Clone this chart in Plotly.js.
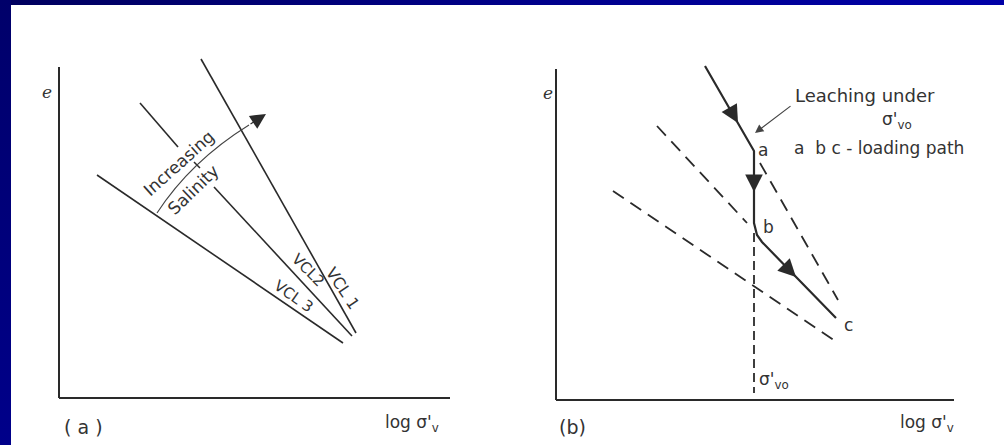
<!DOCTYPE html>
<html>
<head>
<meta charset="utf-8">
<script src="https://cdn.plot.ly/plotly-3.0.1.min.js"></script>
<style>
  body { margin: 0; background: #fff; }
  #frame { position: relative; width: 1004px; height: 445px; overflow: hidden; background: #fff; }
  .bar-top { position: absolute; left: 0; top: 0; width: 1004px; height: 5px;
             background: linear-gradient(to right, #00005e, #00008c 55%, #0000a8); }
  .bar-left { position: absolute; left: 0; top: 0; width: 11px; height: 445px;
              background: linear-gradient(to bottom, #00006a, #00008a); }
  #chart { position: absolute; left: 0; top: 0; width: 1004px; height: 445px; }
</style>
</head>
<body>
<div id="frame">
  <div class="bar-top"></div>
  <div class="bar-left"></div>
  <div id="chart"></div>
</div>
<script>
// Units on both panels: distance from the axis corner.

// (a) virgin compression lines
var vcl1X = [142, 297];
var vcl1Y = [339, 65];
var vcl2X = [81, 119, null, 155, 293];   // broken where "Increasing" sits
var vcl2Y = [295, 251, null, 211, 62];
var vcl3X = [38, 284];
var vcl3Y = [223, 55];
var arcPts = [[98, 185], [132, 237], [190, 273]];   // start, control, end
var arcHead = [207, 284];
var axisA = [391, 331];                 // x-axis length, y-axis length

// (b) loading path a-b-c and the dashed lines
var pathX = [149, 198, 198, 201, 206, 280];
var pathY = [334, 249, 177, 165, 158, 82];
var dash1X = [204, 282], dash1Y = [237, 100];
var dash2X = [101, 191], dash2Y = [274, 177];
var dash3X = [57, 282],  dash3Y = [209, 57];
var sigmaX = [198, 198], sigmaY = [167, 7];
var heads = [[178, 284, 182, 277], [198, 216, 198, 208], [234, 129, 240, 123]]; // tail, head
var axisB = [398, 331];

var ink = '#2a2a2a';
var txt = '#333333';
var font = 'DejaVu Sans, sans-serif';

function seg(x, y, xa, ya, w, dash) {
  return {
    x: x, y: y, xaxis: xa, yaxis: ya, type: 'scatter', mode: 'lines',
    line: {color: ink, width: w, dash: dash || 'solid'},
    hoverinfo: 'skip', showlegend: false
  };
}

var data = [
  seg(vcl1X, vcl1Y, 'x', 'y', 1.6),
  seg(vcl2X, vcl2Y, 'x', 'y', 1.6),
  seg(vcl3X, vcl3Y, 'x', 'y', 1.6),
  {
    x: [138], y: [233], xaxis: 'x', yaxis: 'y', type: 'scatter', mode: 'markers',
    marker: {symbol: 'line-nw', size: 6, line: {color: ink, width: 1.5}},
    hoverinfo: 'skip', showlegend: false
  },
  seg(pathX, pathY, 'x2', 'y2', 2.2),
  seg(dash1X, dash1Y, 'x2', 'y2', 1.8, '13px,8px'),
  seg(dash2X, dash2Y, 'x2', 'y2', 1.8, '13px,8px'),
  seg(dash3X, dash3Y, 'x2', 'y2', 1.8, '13px,8px'),
  seg(sigmaX, sigmaY, 'x2', 'y2', 1.8, '9px,5px')
];

function axisLines(xr, yr, len) {
  return [
    {type: 'line', xref: xr, yref: yr, x0: 0, y0: 0, x1: len[0], y1: 0, line: {color: ink, width: 2}},
    {type: 'line', xref: xr, yref: yr, x0: 0, y0: 0, x1: 0, y1: len[1], line: {color: ink, width: 2}}
  ];
}

var arcPath = 'M' + arcPts[0].join(',') + ' Q' + arcPts[1].join(',') + ' ' + arcPts[2].join(',');

var shapes = axisLines('x', 'y', axisA).concat(axisLines('x2', 'y2', axisB)).concat([
  {type: 'path', xref: 'x', yref: 'y', path: arcPath, line: {color: '#444', width: 1.1}}
]);

function label(text, x, y, xr, yr, size, angle, anchor) {
  return {
    text: text, x: x, y: y, xref: xr, yref: yr, showarrow: false,
    textangle: angle || 0, xanchor: anchor || 'center', yanchor: 'middle',
    font: {family: font, size: size, color: txt}
  };
}

function arrow(t, xr, yr, size, width) {
  return {
    text: '', x: t[2], y: t[3], ax: t[0], ay: t[1], xref: xr, yref: yr, axref: xr, ayref: yr,
    showarrow: true, arrowhead: 2, arrowsize: size, arrowwidth: width, arrowcolor: ink
  };
}

var annotations = [
  // panel (a)
  {text: '<i>e</i>', x: -12, y: 306, xref: 'x', yref: 'y', showarrow: false,
   font: {family: 'DejaVu Serif, serif', size: 17, color: txt}},
  label('( a )', 24, -29, 'x', 'y', 19),
  label('log σ\'<sub>v</sub>', 353, -25, 'x', 'y', 17),
  label('Increasing', 120, 235, 'x', 'y', 17, -42),
  label('Salinity', 134, 208, 'x', 'y', 17, -44),
  label('VCL 1', 284, 110, 'x', 'y', 16, 56),
  label('VCL2', 249, 128, 'x', 'y', 15, 45),
  label('VCL 3', 234, 102, 'x', 'y', 15, 35),
  arrow([190, 273, arcHead[0], arcHead[1]], 'x', 'y', 2.8, 1.1),

  // panel (b)
  {text: '<i>e</i>', x: -8, y: 307, xref: 'x2', yref: 'y2', showarrow: false,
   font: {family: 'DejaVu Serif, serif', size: 17, color: txt}},
  label('(b)', 16, -27, 'x2', 'y2', 19),
  label('log σ\'<sub>v</sub>', 371, -23, 'x2', 'y2', 17),
  label('a', 207, 250, 'x2', 'y2', 17),
  label('b', 212, 173, 'x2', 'y2', 17),
  label('c', 292, 75, 'x2', 'y2', 17),
  label('σ\'<sub>vo</sub>', 201, 20, 'x2', 'y2', 17, 0, 'left'),
  label('Leaching under', 237, 305, 'x2', 'y2', 18, 0, 'left'),
  label('σ\'<sub>vo</sub>', 341, 280, 'x2', 'y2', 17),
  label('a  b c - loading path', 236, 252, 'x2', 'y2', 17, 0, 'left'),
  {
    text: '', x: 199, y: 267, ax: 236, ay: 295, xref: 'x2', yref: 'y2', axref: 'x2', ayref: 'y2',
    showarrow: true, arrowhead: 2, arrowsize: 1.4, arrowwidth: 1.2, arrowcolor: '#444'
  }
].concat(heads.map(function (h) { return arrow(h, 'x2', 'y2', 1.6, 2.2); }));

function hidden(domain, range, anchor) {
  return {
    domain: domain, range: range, anchor: anchor, visible: false,
    showgrid: false, zeroline: false, fixedrange: true
  };
}

var layout = {
  width: 1004,
  height: 445,
  margin: {l: 0, r: 0, t: 0, b: 0},
  paper_bgcolor: 'rgba(0,0,0,0)',
  plot_bgcolor: 'rgba(0,0,0,0)',
  showlegend: false,
  xaxis: hidden([11 / 1004, 500 / 1004], [-48, 441], 'y'),
  yaxis: hidden([0, 405 / 445], [-47, 358], 'x'),
  xaxis2: hidden([510 / 1004, 1], [-46, 448], 'y2'),
  yaxis2: hidden([0, 405 / 445], [-45, 360], 'x2'),
  shapes: shapes,
  annotations: annotations
};

Plotly.newPlot('chart', data, layout, {staticPlot: true});
</script>
</body>
</html>
